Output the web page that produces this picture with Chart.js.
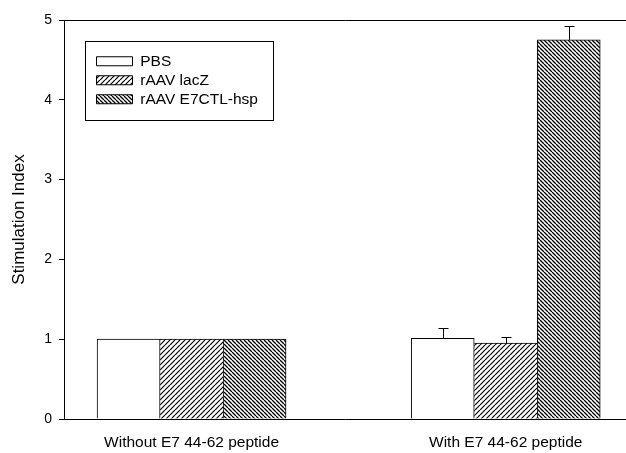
<!DOCTYPE html>
<html>
<head>
<meta charset="utf-8">
<script src="https://cdn.jsdelivr.net/npm/chart.js@4/dist/chart.umd.min.js"></script>
<style>
  html, body { margin: 0; padding: 0; background: #fff; }
  canvas { display: block; }
</style>
</head>
<body>
<canvas id="chart" width="626" height="453"></canvas>
<script>
// Stimulation index per group, mean and upper error
const categories = ['Without E7 44-62 peptide', 'With E7 44-62 peptide'];
const seriesNames = ['PBS', 'rAAV lacZ', 'rAAV E7CTL-hsp'];
const pbsValues = [1.0, 1.01];
const pbsErrors = [0, 0.13];
const lacZValues = [1.0, 0.95];
const lacZErrors = [0, 0.08];
const e7ctlValues = [1.0, 4.75];
const e7ctlErrors = [0, 0.18];
const yTicks = [0, 1, 2, 3, 4, 5];

// where each group sits along the horizontal axis (percent of plot width)
const groupCenters = [22.7, 78.6];

// diagonal hatch fills
function hatch(period, lineWidth, forward) {
  const c = document.createElement('canvas');
  c.width = period; c.height = period;
  const g = c.getContext('2d');
  g.fillStyle = '#fff';
  g.fillRect(0, 0, period, period);
  g.strokeStyle = '#000';
  g.lineWidth = lineWidth;
  g.beginPath();
  for (let k = -1; k <= 1; k++) {
    if (forward) {
      g.moveTo(k * period, period);
      g.lineTo(k * period + period, 0);
    } else {
      g.moveTo(k * period, 0);
      g.lineTo(k * period + period, period);
    }
  }
  g.stroke();
  return g.createPattern(c, 'repeat');
}

const ctx = document.getElementById('chart').getContext('2d');
const fillPBS = '#ffffff';
const fillLacZ = hatch(5, 1.2, true);
const fillE7 = hatch(4, 1.3, false);

function points(values) {
  return values.map((v, i) => ({ x: groupCenters[i], y: v }));
}

Chart.defaults.font.family = '"Liberation Sans", Arial, sans-serif';
Chart.defaults.color = '#000';

// upward error bars with caps
const errorBars = {
  id: 'errorBars',
  afterDatasetsDraw(chart) {
    const c = chart.ctx;
    const yScale = chart.scales.y;
    c.save();
    c.strokeStyle = '#000';
    c.lineWidth = 1;
    chart.data.datasets.forEach((ds, di) => {
      const meta = chart.getDatasetMeta(di);
      meta.data.forEach((bar, i) => {
        const err = ds.errors[i];
        if (!err) return;
        const x = Math.round(bar.x) + 0.5;
        const yTop = yScale.getPixelForValue(ds.data[i].y + err);
        const yCap = Math.round(yTop) + 0.5;
        c.beginPath();
        c.moveTo(x, bar.y);
        c.lineTo(x, yCap);
        c.moveTo(x - 5, yCap);
        c.lineTo(x + 5, yCap);
        c.stroke();
      });
    });
    c.restore();
  }
};

// places the legend inside the plot and frames it
const legendFrame = {
  id: 'legendFrame',
  afterLayout(chart) {
    const lg = chart.legend;
    const area = chart.chartArea;
    const dx = area.left + 29 - lg.left;
    const dy = area.top + 30 - lg.top;
    lg.left += dx; lg.right += dx;
    lg.top += dy; lg.bottom += dy;
  },
  afterDraw(chart) {
    const lg = chart.legend;
    const c = chart.ctx;
    c.save();
    c.strokeStyle = '#000';
    c.lineWidth = 1;
    c.strokeRect(Math.round(lg.left) - 8 + 0.5, Math.round(lg.top) - 9 + 0.5, 188, 79);
    c.restore();
  }
};

new Chart(ctx, {
  type: 'bar',
  data: {
    datasets: [
      { label: seriesNames[0], data: points(pbsValues), errors: pbsErrors,
        backgroundColor: fillPBS, borderColor: '#000',
        borderWidth: { top: 1, left: 1, right: 1, bottom: 0 } },
      { label: seriesNames[1], data: points(lacZValues), errors: lacZErrors,
        backgroundColor: fillLacZ, borderColor: '#000',
        borderWidth: { top: 1, left: 0, right: 0, bottom: 0 } },
      { label: seriesNames[2], data: points(e7ctlValues), errors: e7ctlErrors,
        backgroundColor: fillE7, borderColor: '#000',
        borderWidth: { top: 1, left: 1, right: 1, bottom: 0 } }
    ]
  },
  options: {
    responsive: false,
    animation: false,
    devicePixelRatio: 1,
    layout: { padding: { left: 4, top: 20, right: 0, bottom: 0 } },
    datasets: { bar: { barThickness: 63, borderSkipped: 'start' } },
    plugins: {
      tooltip: { enabled: false },
      legend: {
        position: 'chartArea',
        align: 'start',
        labels: {
          boxWidth: 36,
          boxHeight: 9,
          padding: 3.5,
          color: '#000',
          font: { size: 15.5 },
          generateLabels(chart) {
            return Chart.defaults.plugins.legend.labels.generateLabels(chart)
              .map(item => Object.assign(item, { lineWidth: 1, strokeStyle: '#000' }));
          }
        }
      }
    },
    scales: {
      x: {
        type: 'linear',
        min: 0,
        max: 100,
        offset: false,
        grid: { display: false, drawTicks: false },
        border: { display: true, color: '#000', width: 1 },
        afterBuildTicks(scale) {
          scale.ticks = groupCenters.map(v => ({ value: v }));
        },
        afterFit(scale) { scale.height = 34; },
        ticks: {
          padding: 14,
          maxRotation: 0,
          autoSkip: false,
          font: { size: 15.5 },
          color: '#000',
          callback: (value, index) => categories[index]
        }
      },
      x2: {
        type: 'linear',
        position: 'top',
        grid: { display: false, drawTicks: false },
        ticks: { display: false },
        border: { display: true, color: '#000', width: 1 }
      },
      y: {
        min: 0,
        max: 5,
        afterBuildTicks(scale) {
          scale.ticks = yTicks.map(v => ({ value: v }));
        },
        afterFit(scale) { scale.width = 60; },
        grid: { display: true, drawOnChartArea: false, drawTicks: true, tickLength: 5, color: '#000' },
        border: { display: true, color: '#000', width: 1 },
        ticks: { padding: 7, font: { size: 14 }, color: '#000' },
        title: {
          display: true,
          text: 'Stimulation Index',
          font: { size: 17 },
          color: '#000',
          padding: { top: 4.8, bottom: 15 }
        }
      }
    }
  },
  plugins: [errorBars, legendFrame]
});
</script>
</body>
</html>
